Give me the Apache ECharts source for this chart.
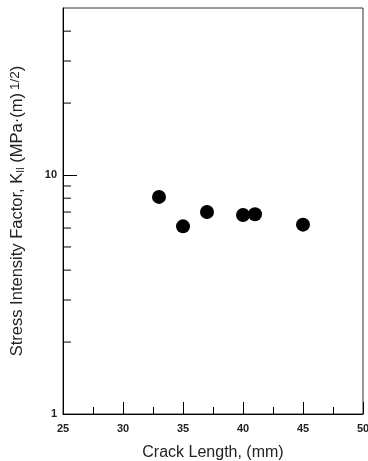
<!DOCTYPE html>
<html>
<head>
<meta charset="utf-8">
<script src="https://cdn.jsdelivr.net/npm/echarts@6/dist/echarts.min.js"></script>
<style>
  html, body { margin: 0; padding: 0; background: #fff; }
  #main { width: 368px; height: 461px; }
</style>
</head>
<body>
<div id="main"></div>
<script>
// crack length (mm) and K_II values
var crackLength = [33, 35, 37, 40, 41, 45];
var kII = [8.1, 6.1, 7.0, 6.8, 6.85, 6.2];
// minor tick positions on the log axis
var yMinorTicks = [2, 3, 4, 5, 6, 7, 8, 9, 20, 30, 40];

var myChart = echarts.init(document.getElementById('main'));
var font = 'Liberation Sans, Arial, sans-serif';

var option = {
  animation: false,
  grid: {
    left: 63, top: 8, right: 5, bottom: 47,
    outerBoundsMode: 'none',
    containLabel: false,
    show: true, borderColor: '#333', borderWidth: 1
  },
  xAxis: {
    type: 'value',
    min: 25, max: 50, interval: 5,
    name: 'Crack Length, (mm)',
    nameLocation: 'middle',
    nameGap: 31,
    nameTextStyle: { fontFamily: font, fontSize: 16, color: '#222' },
    axisLine: { lineStyle: { color: '#000' } },
    axisTick: { inside: true, length: 12, lineStyle: { color: '#000' } },
    minorTick: { show: true, splitNumber: 2, length: 7, lineStyle: { color: '#000' } },
    axisLabel: { fontFamily: font, fontSize: 11, fontWeight: 'bold', color: '#222', margin: 9 },
    splitLine: { show: false }
  },
  yAxis: {
    type: 'log',
    logBase: 10,
    min: 1, max: 50,
    name: 'Stress Intensity Factor, K{sub|II} (MPa·(m){sup|1/2})',
    nameLocation: 'middle',
    nameGap: 37,
    nameTextStyle: {
      fontFamily: font, fontSize: 16.5, color: '#222',
      rich: {
        sub: { fontFamily: font, fontSize: 10, color: '#222', verticalAlign: 'bottom', padding: [7, 0, 0, 0] },
        sup: { fontFamily: font, fontSize: 13.5, color: '#222', verticalAlign: 'top', padding: [0, 0, 4, 3] }
      }
    },
    axisLine: { lineStyle: { color: '#000' } },
    axisTick: { inside: true, length: 14, lineStyle: { color: '#000' } },
    axisLabel: {
      fontFamily: font, fontSize: 11, fontWeight: 'bold', color: '#222', margin: 6,
      showMaxLabel: false,
      formatter: function (v) { return (v === 1 || v === 10) ? String(v) : ''; }
    },
    splitLine: { show: false }
  },
  series: [
    {
      type: 'scatter',
      data: crackLength.map(function (x, i) { return [x, kII[i]]; }),
      symbolSize: 14,
      itemStyle: { color: '#000', opacity: 1 }
    },
    {
      type: 'scatter',
      silent: true,
      clip: false,
      data: yMinorTicks.map(function (v) { return [25, v]; }),
      symbol: 'rect',
      symbolSize: [8, 1],
      symbolOffset: [4, 0],
      itemStyle: { color: '#000', opacity: 1 }
    }
  ]
};
myChart.setOption(option);
</script>
</body>
</html>
